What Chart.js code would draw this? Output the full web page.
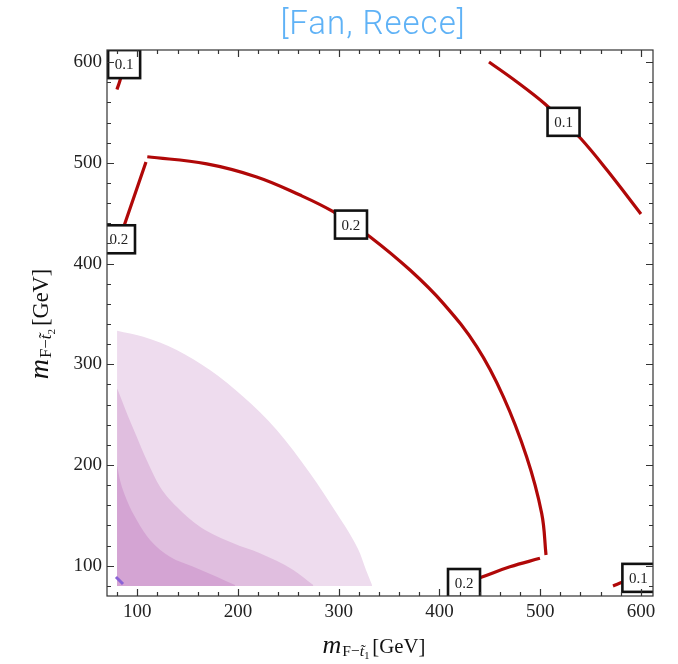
<!DOCTYPE html>
<html>
<head>
  <title>Fan, Reece contours</title>
  <script src="https://cdn.jsdelivr.net/npm/chart.js"></script>
  <style>
    html, body { margin: 0; padding: 0; background: #fff; }
  </style>
</head>
<body>
  <canvas id="myChart" width="678" height="664"></canvas>
  <script>
    // axis ticks (GeV)
    const xTicks = [100, 200, 300, 400, 500, 600];
    const yTicks = [100, 200, 300, 400, 500, 600];
    const minorTicks = [80, 120, 140, 160, 180, 220, 240, 260, 280, 320, 340, 360, 380,
                        420, 440, 460, 480, 520, 540, 560, 580];

    // contour 0.1 (outer arc + two corner pieces)
    const c01ArcX = [449.2, 477.0, 504.8, 523.2, 540.5, 566.3, 600.0];
    const c01ArcY = [600.1, 580.2, 558.4, 540.7, 523.9, 492.9, 449.3];
    const c01TopX = [79.9, 82.9, 85.0];
    const c01TopY = [572.9, 581.8, 590.0];
    const c01BotX = [572.3, 582.2, 592.0];
    const c01BotY = [79.9, 83.9, 87.0];

    // contour 0.2
    const c02ArcX = [110.0, 169.0, 218.6, 261.6, 294.6, 312.2, 331.0, 370.8, 403.8, 437.0, 463.4, 486.6, 501.5, 505.8];
    const c02ArcY = [506.0, 499.0, 486.0, 468.0, 451.5, 438.7, 426.7, 393.6, 360.5, 317.5, 268.0, 208.0, 152.0, 110.7];
    const c02LeftX = [82.6, 87.9, 108.7];
    const c02LeftY = [425.0, 440.3, 500.8];
    const c02BotX = [424.0, 442.2, 470.0, 499.8];
    const c02BotY = [83.0, 88.9, 99.0, 107.4];

    // shaded regions (outer boundary, filled down to 80)
    const shadeLightX = [80.0, 106.0, 139.2, 172.2, 205.3, 238.5, 271.5, 298.0, 314.5, 321.1, 327.1, 333.1];
    const shadeLightY = [333.4, 327.4, 314.2, 294.3, 267.8, 234.8, 191.8, 152.1, 125.6, 112.4, 95.8, 80.9];
    const shadeMidX = [80.0, 84.6, 91.1, 99.5, 109.4, 122.6, 139.2, 162.3, 195.4, 221.8, 254.9, 274.8];
    const shadeMidY = [276.2, 264.6, 248.0, 228.2, 205.0, 178.5, 158.6, 138.8, 122.3, 112.4, 95.8, 80.9];
    const shadeDarkX = [80.0, 82.9, 89.6, 99.5, 112.7, 132.5, 155.7, 178.9, 197.1];
    const shadeDarkY = [200.0, 185.1, 165.3, 145.4, 125.6, 109.0, 99.1, 89.2, 80.9];
    const blueX = [78.9, 85.9];
    const blueY = [88.9, 81.9];

    // contour labels
    const labelText = ['0.1', '0.1', '0.1', '0.2', '0.2', '0.2'];
    const labelX = [87.0, 523.2, 597.5, 312.2, 81.9, 424.4];
    const labelY = [598.0, 540.7, 88.0, 438.7, 424.1, 82.9];

    const lineRed = '#b00808';
    const serif = '"Liberation Serif", "DejaVu Serif", serif';

    function pts(xs, ys) {
      return xs.map((v, i) => ({ x: v, y: ys[i] }));
    }

    function contour(xs, ys) {
      return { data: pts(xs, ys), borderColor: lineRed, borderWidth: 3.2, fill: false,
               tension: 0.4, borderCapStyle: 'butt', order: 0 };
    }

    function shade(xs, ys, color, order) {
      return { data: pts(xs, ys), borderColor: color, borderWidth: 0, backgroundColor: color,
               fill: { value: 80 }, cubicInterpolationMode: 'monotone', order: order };
    }

    const labelBoxes = {
      id: 'labelBoxes',
      afterDatasetsDraw(chart) {
        const { ctx, chartArea: a, scales: { x, y } } = chart;
        ctx.save();
        ctx.beginPath();
        ctx.rect(a.left, a.top, a.right - a.left, a.bottom - a.top);
        ctx.clip();
        labelText.forEach((t, i) => {
          const px = x.getPixelForValue(labelX[i]);
          const py = y.getPixelForValue(labelY[i]);
          ctx.fillStyle = '#fff';
          ctx.fillRect(px - 16, py - 14, 32, 28);
          ctx.lineWidth = 2.6;
          ctx.strokeStyle = '#111';
          ctx.strokeRect(px - 16, py - 14, 32, 28);
          ctx.fillStyle = '#222';
          ctx.font = '15px ' + serif;
          ctx.textAlign = 'center';
          ctx.textBaseline = 'middle';
          ctx.fillText(t, px, py + 1);
        });
        ctx.restore();
      }
    };

    function massLabel(ctx, idx, k) {
      const parts = [
        { t: 'm', font: 'italic ' + 25 * k + 'px ' + serif, dy: 0, gap: 1 },
        { t: 'F\u2212', font: 15 * k + 'px ' + serif, dy: 3 * k, gap: 0 },
        { t: 't\u0303', font: 'italic ' + 15 * k + 'px ' + serif, dy: 3 * k, gap: 0 },
        { t: idx, font: 10 * k + 'px ' + serif, dy: 6 * k, gap: 3 },
        { t: '[GeV]', font: 20 * k + 'px ' + serif, dy: 0, gap: 0 }
      ];
      let total = 0;
      parts.forEach(p => { ctx.font = p.font; p.w = ctx.measureText(p.t).width; total += p.w + p.gap; });
      let cx = -total / 2;
      ctx.textAlign = 'left';
      ctx.textBaseline = 'alphabetic';
      ctx.fillStyle = '#111';
      parts.forEach(p => {
        ctx.font = p.font;
        ctx.fillText(p.t, cx, p.dy);
        cx += p.w + p.gap;
      });
    }

    const frame = {
      id: 'frame',
      afterDraw(chart) {
        const { ctx, chartArea: a, scales: { x, y } } = chart;
        ctx.save();
        ctx.strokeStyle = '#333';
        ctx.lineWidth = 1.2;
        ctx.strokeRect(a.left, a.top, a.right - a.left, a.bottom - a.top);
        ctx.beginPath();
        const markX = (v, len) => {
          const px = Math.round(x.getPixelForValue(v)) + 0.5;
          ctx.moveTo(px, a.bottom); ctx.lineTo(px, a.bottom - len);
          ctx.moveTo(px, a.top); ctx.lineTo(px, a.top + len);
        };
        const markY = (v, len) => {
          const py = Math.round(y.getPixelForValue(v)) + 0.5;
          ctx.moveTo(a.left, py); ctx.lineTo(a.left + len, py);
          ctx.moveTo(a.right, py); ctx.lineTo(a.right - len, py);
        };
        xTicks.forEach(v => markX(v, 7));
        yTicks.forEach(v => markY(v, 7));
        minorTicks.forEach(v => { markX(v, 4); markY(v, 4); });
        ctx.stroke();

        // title
        ctx.font = '300 33px Roboto, "Open Sans", sans-serif';
        ctx.letterSpacing = '1px';
        ctx.fillStyle = '#5fb2f6';
        ctx.textAlign = 'center';
        ctx.textBaseline = 'alphabetic';
        ctx.fillText('[Fan, Reece]', 373, 34);
        ctx.letterSpacing = '0px';

        // axis titles
        ctx.save();
        ctx.translate(374, 653);
        massLabel(ctx, '1', 1.04);
        ctx.restore();
        ctx.save();
        ctx.translate(48, 324);
        ctx.rotate(-Math.PI / 2);
        massLabel(ctx, '2', 1.12);
        ctx.restore();
        ctx.restore();
      }
    };

    const tickFont = { family: serif, size: 19 };

    var ctx = document.getElementById('myChart').getContext('2d');
    var myChart = new Chart(ctx, {
      type: 'line',
      data: {
        datasets: [
          contour(c01ArcX, c01ArcY),
          contour(c01TopX, c01TopY),
          contour(c01BotX, c01BotY),
          contour(c02ArcX, c02ArcY),
          contour(c02LeftX, c02LeftY),
          contour(c02BotX, c02BotY),
          { data: pts(blueX, blueY), borderColor: '#8a63d6', borderWidth: 3, fill: false, order: 1 },
          shade(shadeDarkX, shadeDarkY, '#d4a4d3', 2),
          shade(shadeMidX, shadeMidY, '#e0bedf', 3),
          shade(shadeLightX, shadeLightY, '#eedcee', 4)
        ]
      },
      options: {
        responsive: false,
        animation: false,
        layout: { padding: { top: 50, right: 25, left: 0, bottom: 0 } },
        elements: { point: { radius: 0 } },
        plugins: {
          legend: { display: false },
          tooltip: { enabled: false }
        },
        scales: {
          x: {
            type: 'linear', min: 70, max: 612,
            grid: { display: false, drawTicks: false },
            border: { display: false },
            ticks: { font: tickFont, color: '#222', padding: 5 },
            afterBuildTicks: s => { s.ticks = xTicks.map(v => ({ value: v })); },
            afterFit: s => { s.height = 68; }
          },
          y: {
            type: 'linear', min: 70, max: 612,
            grid: { display: false, drawTicks: false },
            border: { display: false },
            ticks: { font: tickFont, color: '#222', padding: 5 },
            afterBuildTicks: s => { s.ticks = yTicks.map(v => ({ value: v })); },
            afterFit: s => { s.width = 107; }
          }
        }
      },
      plugins: [labelBoxes, frame]
    });
  </script>
</body>
</html>
